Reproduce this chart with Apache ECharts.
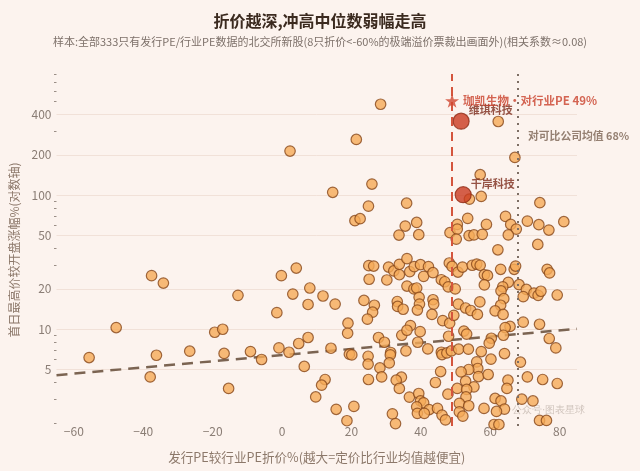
<!DOCTYPE html>
<html>
<head>
    <meta charset="utf-8" />
    <script src="https://cdn.jsdelivr.net/npm/echarts@6/dist/echarts.min.js"></script>
    <style>
        html, body { margin: 0; padding: 0; background: #fcf3ee; }
        #main { width: 640px; height: 471px; }
    </style>
</head>
<body>
<div id="main"></div>
<script>
    // 发行PE较行业PE折价% (x) / 首日最高价较开盘涨幅% (y)
    var discountX = [
        2.3, 14.6, -37.6, -34.2, -12.7, -0.2, 4.1, 3.1, 8.0, 11.8, 7.5, 15.3, -1.5, -47.8, -19.4, -17.1,
        -55.6, -36.2, -26.6, -16.7, -9.1, -5.9, -0.9, 2.0, 4.8, 7.5, 14.1, 6.4, -38.0, -15.4, 12.4, 11.4,
        9.7, 15.6, 28.4, 21.4, 25.9, 24.9, 35.9, 21.0, 22.5, 38.8, 35.5, 33.7, 39.4, 48.4,
        25.0, 26.4, 25.1, 30.7, 32.2, 33.8, 36.0, 33.8, 30.2, 36.8, 38.1, 39.9, 42.2, 40.8, 43.5, 45.9,
        46.9, 48.2, 49.0, 47.9, 36.0, 38.0, 38.8, 23.6, 26.6, 26.1, 24.6, 33.2, 33.3, 34.9, 39.5, 39.6,
        39.0, 43.5, 43.7, 43.2, 46.3, 48.3, 49.5, 19.0, 37.0, 18.9, 19.4, 20.1, 27.8, 29.5, 34.5, 36.0,
        39.8, 39.1, 42.0, 31.3, 31.2, 35.7, 24.8, 24.8, 30.9, 28.2, 28.7, 24.9, 34.4, 32.9, 33.8, 36.7,
        39.4, 39.9, 40.8, 38.8, 42.4, 44.8, 39.0, 41.0, 46.1, 47.1, 45.7, 44.2, 47.8, 45.9, 46.1, 47.5,
        48.0, 48.8, 20.7, 18.7, 31.8, 32.7,
        67.1, 57.1, 54.0, 57.4, 74.3, 53.5, 50.5, 50.5, 50.2, 53.9, 55.3, 57.7, 58.9, 64.4, 65.9, 67.5,
        65.2, 70.7, 74.0, 76.9, 81.2, 73.7, 62.2, 62.3,
        50.7, 52.0, 54.8, 56.1, 57.1, 58.3, 59.2, 58.3, 63.0, 66.9, 67.3, 76.4, 77.1, 65.2, 63.6, 63.1,
        68.3, 70.4, 72.6, 73.8, 74.6, 69.5, 79.3, 49.9, 63.9, 57.0, 50.8, 52.9, 54.4, 56.3, 63.0, 61.4,
        63.7, 69.5, 74.2, 65.7, 64.3, 52.4, 53.2,
        60.3, 63.8, 59.7, 77.0, 78.9, 50.9, 53.7, 57.4, 64.1, 60.2, 56.1, 56.4, 53.8, 51.6, 56.6, 59.4,
        52.9, 55.3, 50.5, 53.2, 53.0, 51.1, 53.8, 58.2, 51.1, 52.1, 65.1, 64.8, 68.7, 70.7, 75.1, 79.3,
        61.4, 63.1, 64.1, 61.8, 69.1, 72.3, 74.2, 76.2, 61.1, 62.5
    ];
    var highGainY = [
        213, 105, 25.1, 22.1, 17.9, 25.1, 28.6, 18.3, 20.3, 17.7, 15.3, 15.4, 13.3, 10.3, 9.5, 10.0,
        6.15, 6.4, 6.86, 6.6, 6.82, 5.95, 7.26, 6.74, 7.83, 8.68, 7.22, 5.28, 4.41, 3.62, 4.22, 3.83,
        3.13, 2.53, 476, 260, 121, 82.8, 87.1, 64.5, 66.7, 62.6, 58.8, 50.4, 50.7, 52.5,
        29.8, 29.6, 23.6, 29.1, 27.2, 30.5, 33.6, 25.5, 23.3, 26.9, 29.3, 30.3, 29.3, 24.8, 26.4, 23.4,
        22.6, 31.2, 29.4, 20.7, 21.0, 20.0, 20.3, 16.4, 15.1, 13.4, 11.9, 16.1, 14.8, 14.1, 17.3, 15.4,
        13.9, 16.6, 15.4, 12.9, 11.6, 11.1, 12.7, 11.1, 10.65, 9.34, 6.52, 6.44, 8.68, 8.0, 9.02, 9.83,
        9.6, 8.0, 7.13, 6.71, 6.44, 6.89, 6.29, 5.49, 5.61, 5.15, 4.41, 4.22, 4.39, 4.17, 3.62, 3.12,
        3.32, 2.92, 2.83, 2.64, 2.52, 2.57, 2.36, 2.36, 2.29, 2.11, 4.84, 4.01, 3.28, 6.74, 6.48, 6.66,
        8.87, 6.89, 2.66, 2.08, 2.34, 1.98,
        191, 142, 93.4, 97.8, 87.8, 67.1, 60.5, 55.8, 47.0, 49.9, 50.5, 51.0, 60.5, 69.4, 60.5, 55.8,
        50.5, 64.0, 60.2, 54.9, 63.4, 42.9, 39.1, 354,
        26.7, 29.1, 30.0, 30.6, 30.0, 25.5, 25.2, 21.4, 28.0, 28.0, 29.6, 28.0, 26.3, 22.4, 20.7, 19.3,
        21.5, 19.8, 18.6, 17.9, 19.2, 17.5, 18.0, 20.0, 16.9, 16.0, 15.4, 14.4, 13.8, 12.9, 15.1, 13.7,
        12.9, 11.3, 10.9, 10.5, 10.3, 9.7, 9.2,
        8.57, 9.02, 7.87, 8.53, 7.26, 7.10, 7.10, 6.82, 6.59, 5.98, 5.71, 5.10, 5.01, 4.81, 4.44, 4.60,
        4.10, 3.72, 3.62, 3.56, 3.13, 2.80, 2.69, 2.57, 2.42, 2.25, 4.17, 3.62, 5.68, 4.41, 4.22, 3.94,
        3.05, 2.92, 2.54, 2.44, 3.01, 2.92, 2.09, 2.09, 1.95, 1.95
    ];

    // 标注的个股
    var hlNames = ['维琪科技', '千岸科技'];
    var hlX = [51.6, 52.2];
    var hlY = [356, 100.7];

    // 珈凯生物 对行业PE折价 / 可比公司均值折价
    var starName = '珈凯生物·对行业PE 49%';
    var starX = 49;
    var starY = 505;
    var peerName = '对可比公司均值 68%';
    var peerX = 68;
    var peerLabelY = 278;

    // 回归趋势线 (对数轴上的直线)
    var trendX = [-65, 85];
    var trendY = [4.55, 10.07];

    // 刻度
    var xTicks = [-60, -40, -20, 0, 20, 40, 60, 80];
    var yTicks = [5, 10, 20, 50, 100, 200, 400];
    var yMinorTicks = [2, 3, 4, 6, 7, 8, 9, 30, 40, 60, 70, 80, 90, 300, 500, 600, 700, 800];

    var labelColor = '#8a7d75';
    var nameColor = '#8c786a';

    var points = discountX.map(function (x, i) { return [x, highGainY[i]]; });
    var hlPoints = hlX.map(function (x, i) { return { name: hlNames[i], value: [x, hlY[i]] }; });
    var trendData = trendX.map(function (x, i) { return [x, trendY[i]]; });

    var starPath = 'path://M50,0 L61.8,35.1 L98.8,35.1 L68.9,56.8 L80.3,91.9 L50,70.2 L19.7,91.9 L31.1,56.8 L1.2,35.1 L38.2,35.1 Z';

    var option = {
        backgroundColor: '#fcf3ee',
        animation: false,
        textStyle: { fontFamily: '"Noto Sans CJK SC", "Noto Sans", sans-serif' },
        title: [{
            text: '折价越深,冲高中位数弱幅走高',
            left: 'center',
            top: 8,
            textStyle: { fontSize: 16, fontWeight: 'bold', color: '#3b2a1f' }
        }, {
            text: '样本:全部333只有发行PE/行业PE数据的北交所新股(8只折价<-60%的极端溢价票裁出画面外)(相关系数≈0.08)',
            left: 'center',
            top: 31,
            textStyle: { fontSize: 11, fontWeight: 'normal', color: '#7d716a' }
        }],
        grid: {
            left: 56.5,
            right: 63,
            top: 74,
            bottom: 45,
            containLabel: false,
            outerBoundsMode: 'none'
        },
        xAxis: {
            type: 'value',
            min: -65,
            max: 85,
            name: '发行PE较行业PE折价%(越大=定价比行业均值越便宜)',
            nameLocation: 'middle',
            nameGap: 25,
            nameTextStyle: { fontSize: 12.6, color: nameColor },
            axisLine: { show: false },
            axisTick: { show: false },
            splitLine: { show: false },
            axisLabel: {
                customValues: xTicks,
                margin: -1,
                fontSize: 12,
                color: labelColor,
                formatter: function (v) { return String(v).replace('-', '\u2212'); }
            }
        },
        yAxis: [{
            type: 'log',
            logBase: 10,
            min: 1.9,
            max: 800,
            name: '首日最高价较开盘涨幅%(对数轴)',
            nameLocation: 'middle',
            nameGap: 28,
            nameTextStyle: { fontSize: 12, color: nameColor },
            axisLine: { show: false },
            axisTick: { show: false, customValues: yTicks },
            axisLabel: { customValues: yTicks, margin: 5, fontSize: 12, color: labelColor },
            splitLine: { show: true, lineStyle: { color: '#f1e1d8', width: 1 } }
        }, {
            type: 'log',
            logBase: 10,
            min: 1.9,
            max: 800,
            position: 'left',
            axisLine: { show: false },
            axisTick: { show: true, inside: false, length: 2.5, customValues: yMinorTicks,
                lineStyle: { color: '#9a8e86', width: 1 } },
            axisLabel: { show: false },
            splitLine: { show: false }
        }],
        series: [{
            type: 'line',
            data: trendData,
            symbol: 'none',
            silent: true,
            z: 1,
            lineStyle: { color: '#7b6452', width: 2.5, type: [11, 7] }
        }, {
            type: 'scatter',
            data: points,
            symbolSize: 10.5,
            z: 3,
            itemStyle: { color: '#f5aa58', borderColor: '#87471a', borderWidth: 1.2 },
            markLine: {
                silent: true,
                symbol: 'none',
                label: { show: false },
                data: [
                    { xAxis: starX, lineStyle: { color: '#d4553d', width: 2, type: [9, 6] } },
                    { xAxis: peerX, lineStyle: { color: '#7d6e64', width: 2, type: [2, 5] } }
                ]
            }
        }, {
            type: 'scatter',
            data: hlPoints,
            symbolSize: 16,
            z: 4,
            itemStyle: { color: '#c9391f', borderColor: '#8e2a14', borderWidth: 1.2 },
            label: {
                show: true,
                position: 'right',
                distance: 5,
                offset: [-6, -11],
                formatter: '{b}',
                fontSize: 11,
                fontWeight: 'bold',
                color: '#7c2a1a'
            }
        }, {
            type: 'scatter',
            data: [{ name: starName, value: [starX, starY] }],
            symbol: starPath,
            symbolSize: 14,
            z: 5,
            itemStyle: { color: '#cf4630' },
            label: {
                show: true,
                position: 'right',
                distance: 4,
                formatter: '{b}',
                fontSize: 11.5,
                fontWeight: 'bold',
                color: '#c9402a'
            }
        }, {
            type: 'scatter',
            data: [{ name: peerName, value: [peerX, peerLabelY] }],
            symbolSize: 0,
            z: 5,
            label: {
                show: true,
                position: 'right',
                distance: 10,
                formatter: '{b}',
                fontSize: 10.8,
                fontWeight: 'bold',
                color: '#7a6352'
            }
        }],
        graphic: [{
            type: 'text',
            left: 512,
            top: 405,
            silent: true,
            style: { text: '公众号·图表星球', fontSize: 10, fill: 'rgba(150,135,125,0.45)' }
        }]
    };

    var chart = echarts.init(document.getElementById('main'));
    chart.setOption(option);
</script>
</body>
</html>
